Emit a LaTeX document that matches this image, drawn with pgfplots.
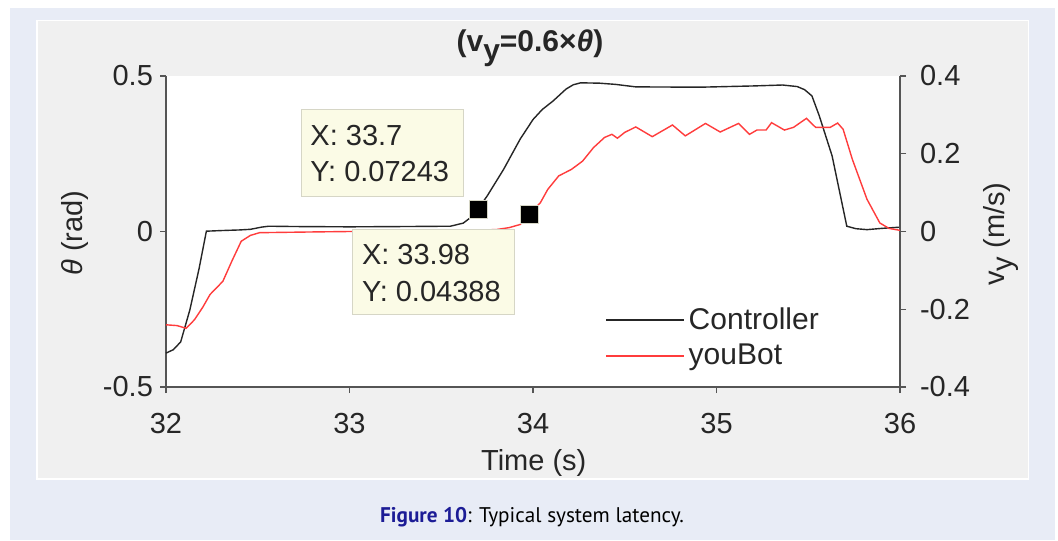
\documentclass[border=0pt]{standalone}
\usepackage{pgfplots}
\pgfplotsset{compat=1.18}
\usepackage{fontspec}
\setmainfont{Liberation Sans}
\newfontfamily\capfont{PT Sans}
\definecolor{outerbg}{HTML}{E8ECF6}
\definecolor{panelbg}{HTML}{F0F0F0}
\definecolor{axcol}{HTML}{555555}
\definecolor{txtcol}{HTML}{262626}
\definecolor{tipfill}{HTML}{FBFBE6}
\definecolor{tipdraw}{HTML}{D6D6C6}
\definecolor{ctrl}{HTML}{262626}
\definecolor{ybot}{HTML}{FF3C3C}
\definecolor{capblue}{HTML}{1C1C96}

\pgfplotstableread{
x y
32.00 -0.391
32.04 -0.380
32.08 -0.355
32.13 -0.252
32.18 -0.120
32.22 0.001
32.30 0.003
32.40 0.005
32.46 0.007
32.52 0.014
32.56 0.017
32.70 0.016
33.00 0.015
33.30 0.016
33.55 0.017
33.62 0.027
33.66 0.045
33.70 0.0724
33.75 0.114
33.84 0.200
33.93 0.297
34.00 0.360
34.05 0.392
34.11 0.420
34.18 0.458
34.22 0.472
34.26 0.478
34.36 0.477
34.45 0.473
34.56 0.465
34.91 0.464
35.20 0.468
35.36 0.471
35.44 0.466
35.48 0.456
35.52 0.436
35.56 0.372
35.63 0.243
35.67 0.130
35.71 0.017
35.76 0.009
35.82 0.006
35.90 0.010
36.00 0.014
}\ctrltable

\pgfplotstableread{
x y
32.00 -0.240
32.06 -0.242
32.11 -0.249
32.155 -0.227
32.20 -0.195
32.24 -0.162
32.31 -0.128
32.36 -0.075
32.41 -0.025
32.46 -0.010
32.51 -0.003
32.82 -0.001
33.00 0.000
33.50 0.001
33.80 0.005
33.87 0.010
33.93 0.018
33.98 0.0439
34.04 0.074
34.08 0.108
34.14 0.143
34.21 0.160
34.27 0.181
34.33 0.216
34.39 0.242
34.43 0.250
34.46 0.240
34.50 0.255
34.56 0.269
34.65 0.244
34.76 0.274
34.83 0.246
34.94 0.278
35.02 0.256
35.12 0.278
35.18 0.250
35.22 0.261
35.27 0.261
35.30 0.280
35.37 0.261
35.42 0.268
35.49 0.291
35.54 0.268
35.62 0.268
35.66 0.279
35.69 0.263
35.74 0.186
35.82 0.083
35.89 0.022
35.94 0.008
36.00 0.003
}\ybottable

\begin{document}
\begin{tikzpicture}
\begin{scope}[x=0.5pt,y=-0.5pt]
\fill[white] (0,0) rectangle (1058,540);
\fill[outerbg] (10,8) rectangle (1055,540);
\fill[white] (36,20) rectangle (1029,480);
\fill[panelbg] (37.5,21.5) rectangle (1027.5,478);
\node[font=\bfseries\fontsize{15}{18}\selectfont, text=txtcol] at (530,48) {(v\raisebox{-0.6ex}{y}=0.6×\textit{θ})};
\node[font=\capfont\fontsize{10.6}{12}\selectfont] at (532,517) {\textcolor{capblue}{\textbf{Figure 10}}: Typical system latency.};
\node[font=\fontsize{14.5}{17}\selectfont, text=txtcol, rotate=90] at (75,233) {\textit{θ} (rad)};
\node[font=\fontsize{14.5}{17}\selectfont, text=txtcol, rotate=90] at (1001,234) {v\raisebox{-0.55ex}{y} (m/s)};
\end{scope}

\pgfplotsset{
 common/.style={
   scale only axis, width=367pt, height=155.5pt,
   at={(83pt,-193.5pt)}, anchor=south west,
   xmin=32, xmax=36,
   tick align=outside,
   major tick length=3pt,
   axis line style={axcol, line width=0.6pt},
   tick style={axcol, line width=0.6pt},
   tick label style={font=\fontsize{14.5}{17}\selectfont, text=txtcol},
   label style={font=\fontsize{14.5}{17}\selectfont, text=txtcol},
   /pgf/number format/assume math mode=true,
   /pgf/number format/fixed,
   clip=false,
 }
}
\begin{axis}[common,
  axis x line*=bottom, axis y line*=left,
  axis background/.style={fill=white},
  xtick={32,33,34,35,36},
  xticklabel style={yshift=-6.5pt},
  ymin=-0.5, ymax=0.5, ytick={-0.5,0,0.5},
  xlabel={Time (s)},
  xlabel style={at={(axis description cs:0.501,0)}, anchor=center, yshift=-38pt},
]
\addplot[ctrl, line width=0.7pt] table[x=x,y=y] {\ctrltable};
\draw[tipdraw, fill=tipfill, line width=0.5pt] (axis cs:32.74,0.3907) rectangle (axis cs:33.62,0.112);
\node[anchor=west, font=\fontsize{14.5}{17}\selectfont, text=txtcol, inner sep=0pt] at (axis cs:32.785,0.3095) {X: 33.7};
\node[anchor=west, font=\fontsize{14.5}{17}\selectfont, text=txtcol, inner sep=0pt] at (axis cs:32.785,0.1925) {Y: 0.07243};
\addplot[only marks, mark=square*, mark size=4.5pt, mark options={fill=black, draw=tipdraw, line width=0.4pt}] coordinates {(33.7,0.07243)};
\end{axis}

\begin{axis}[common,
  axis x line=none, axis y line*=right,
  ymin=-0.4, ymax=0.4, ytick={-0.4,-0.2,0,0.2,0.4},
  yticklabel style={xshift=3.5pt},
  legend style={draw=none, fill=none, at={(0.598,0.27)}, anchor=north west, inner sep=0pt,
    font=\fontsize{15}{18}\selectfont, text=txtcol, row sep=2pt,
    /tikz/every even column/.append style={column sep=0pt}},
  legend cell align=left,
  legend image code/.code={\draw[#1] (0pt,0pt) -- (39pt,0pt);},
]
\addlegendimage{ctrl, line width=0.7pt}
\addlegendentry{Controller}
\addplot[ybot, line width=0.7pt] table[x=x,y=y] {\ybottable};
\addlegendentry{youBot}
\draw[tipdraw, fill=tipfill, line width=0.5pt] (axis cs:33.017,0.0039) rectangle (axis cs:33.90,-0.2147);
\node[anchor=west, font=\fontsize{14.5}{17}\selectfont, text=txtcol, inner sep=0pt] at (axis cs:33.066,-0.0587) {X: 33.98};
\node[anchor=west, font=\fontsize{14.5}{17}\selectfont, text=txtcol, inner sep=0pt] at (axis cs:33.066,-0.1535) {Y: 0.04388};
\addplot[only marks, mark=square*, mark size=4.5pt, mark options={fill=black, draw=tipdraw, line width=0.4pt}] coordinates {(33.98,0.04388)};
\end{axis}
\end{tikzpicture}
\end{document}
